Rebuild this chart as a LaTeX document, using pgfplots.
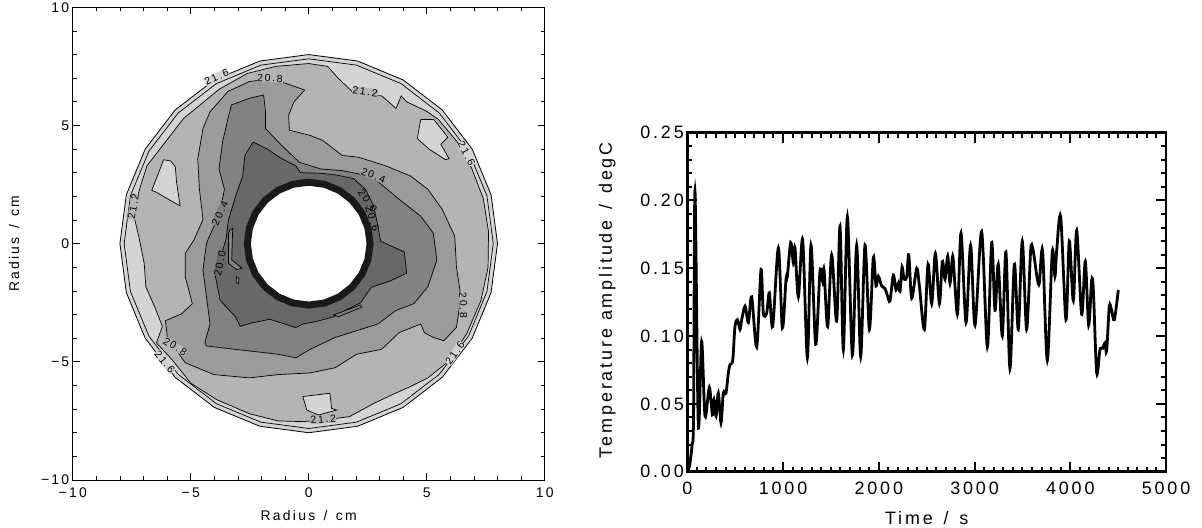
\documentclass[border=0pt]{standalone}
\usepackage{fontspec}
\setmainfont{Liberation Sans}[LetterSpace=16]
\usepackage{pgfplots}
\pgfplotsset{compat=1.18}

\definecolor{lvA}{RGB}{212,212,212}
\definecolor{lvB}{RGB}{180,180,180}
\definecolor{lvC}{RGB}{155,155,155}
\definecolor{lvD}{RGB}{130,130,130}
\definecolor{lvE}{RGB}{104,104,104}

\newcommand{\lbl}{\fontsize{10.5}{10.5}\selectfont}
\newcommand{\sep}{\hspace{0.6em}/\hspace{0.6em}}

\begin{document}
\begin{tikzpicture}
\useasboundingbox (0bp,0bp) rectangle (1202bp,528bp);

% ---------------- left: contour map ----------------
\begin{axis}[
  at={(72.7bp,48bp)}, anchor=south west,
  width=472bp, height=472.7bp, scale only axis,
  xmin=-10, xmax=10, ymin=-10, ymax=10,
  xtick={-10,-5,0,5,10}, ytick={-10,-5,0,5,10},
  xticklabels={−10,−5,0,5,10}, yticklabels={−10,−5,0,5,10},
  minor x tick num=4, minor y tick num=4,
  tick align=inside,
  major tick length=7bp, minor tick length=4bp,
  axis line style={line width=1bp},
  every tick/.style={black, line width=0.8bp},
  tick label style={font=\fontsize{14}{15}\selectfont},
  xticklabel style={yshift=-4bp},
  xlabel={Radius\sep cm}, ylabel={Radius\sep cm},
  label style={font=\fontsize{14}{15}\selectfont},
  xlabel style={at={(axis description cs:0.5,-0.076)}, anchor=center},
  ylabel style={at={(axis description cs:-0.124,0.5)}, anchor=center, rotate=0},
]
% outer rim of the tank
\addplot[draw=black, fill=lvA, line width=0.8bp] coordinates {
 (8,0) (7.727,2.071) (6.928,4) (5.657,5.657) (4,6.928) (2.071,7.727)
 (0,8) (-2.071,7.727) (-4,6.928) (-5.657,5.657) (-6.928,4) (-7.727,2.071)
 (-8,0) (-7.727,-2.071) (-6.928,-4) (-5.657,-5.657) (-4,-6.928) (-2.071,-7.727)
 (0,-8) (2.071,-7.727) (4,-6.928) (5.657,-5.657) (6.928,-4) (7.727,-2.071)} --cycle;
% 21.6 contour
\addplot[draw=black, line width=0.7bp] coordinates {
 (7.82,0) (7.553,2.024) (6.772,3.91) (5.53,5.53) (3.91,6.772) (2.024,7.553)
 (0,7.82) (-2.024,7.553) (-3.91,6.772) (-5.53,5.53) (-6.772,3.91) (-7.553,2.024)
 (-7.82,0) (-7.553,-2.024) (-6.772,-3.91) (-5.53,-5.53) (-3.91,-6.772) (-2.024,-7.553)
 (0,-7.82) (2.024,-7.553) (3.91,-6.772) (5.53,-5.53) (6.772,-3.91) (7.553,-2.024)} --cycle;
% 21.2 contour
\addplot[draw=black, fill=lvB, line width=0.7bp] coordinates {
 (0,7.62) (0.8,7.5) (1.25,7.0) (1.9,6.38) (2.4,6.3) (3.1,6.25) (3.7,5.72)
 (3.92,6.25) (4.15,6.0) (5.0,5.6) (5.5,5.25) (6.3,4.3) (6.9,3.2) (7.4,1.9)
 (7.62,0.5) (7.6,-1.0) (7.3,-2.4) (6.7,-3.8) (5.96,-4.95) (5.05,-5.68)
 (4.3,-6.05) (3.54,-6.39) (2.78,-6.75) (1.72,-7.32) (0.67,-7.46) (-0.24,-7.53)
 (-1.3,-7.5) (-2.5,-7.2) (-3.9,-6.6) (-5.0,-5.9) (-5.8,-4.9) (-6.45,-4.2)
 (-6.2,-3.5) (-6.52,-2.69) (-6.9,-1.83) (-6.97,-0.83) (-7.2,0.3) (-7.4,1.15)
 (-7.2,2.2) (-6.85,3.3) (-6.5,3.75) (-5.3,5.3) (-3.78,6.54) (-2.6,7.2) (-1.4,7.5)} --cycle;
% islands above 21.2
\addplot[draw=black, fill=lvA, line width=0.7bp] coordinates {
 (-6.65,2.25) (-6.3,3.15) (-6.15,3.55) (-5.85,3.5) (-5.65,3.25) (-5.6,2.6)
 (-5.45,1.6) (-5.9,1.85) (-6.5,2.2)} --cycle;
\addplot[draw=black, fill=lvA, line width=0.7bp] coordinates {
 (4.6,4.45) (4.7,5.0) (4.75,5.25) (5.3,5.25) (5.9,4.5) (5.6,4.2) (5.95,3.6)
 (5.8,3.55) (5.1,4.0)} --cycle;
\addplot[draw=black, fill=lvA, line width=0.7bp] coordinates {
 (-0.25,-6.47) (0.9,-6.33) (0.97,-6.97) (1.19,-7.04) (0.41,-7.25) (-0.08,-7.04)} --cycle;
% 20.8 contour
\addplot[draw=black, fill=lvC, line width=0.7bp] coordinates {
 (-2.51,6.86) (-1.75,6.96) (-1.0,6.79) (-0.17,6.5) (-0.62,6.0) (-0.85,5.44)
 (-0.82,4.8) (0.06,4.58) (0.59,4.37) (1.42,3.73) (2.1,3.66) (3.24,3.3)
 (4.3,2.87) (5.05,2.3) (5.66,1.45) (6.19,0.31) (6.26,-0.98) (6.41,-1.97)
 (6.41,-2.54) (6.26,-3.54) (5.73,-4.11) (5.28,-3.97) (4.9,-3.76) (4.75,-3.4)
 (3.84,-3.76) (3.09,-4.47) (2.03,-4.68) (1.12,-5.25) (0.06,-5.47) (-1.3,-5.54)
 (-2.51,-5.68) (-4.02,-5.54) (-5.23,-5.04) (-5.69,-4.4) (-5.99,-3.97)
 (-6.07,-3.26) (-5.39,-2.97) (-4.93,-2.54) (-5.23,-1.4) (-5.23,-0.41)
 (-4.86,0.16) (-4.48,1.02) (-4.63,2.3) (-4.7,3.59) (-4.48,4.87) (-4.18,5.58)
 (-3.42,6.44)} --cycle;
% 20.4 contour
\addplot[draw=black, fill=lvD, line width=0.7bp] coordinates {
 (-3.27,5.87) (-2.51,6.15) (-1.91,6.29) (-1.83,5.58) (-1.83,4.87) (-1.15,4.16)
 (-0.39,3.44) (0.51,3.16) (1.42,3.09) (2.18,2.94) (2.71,2.8) (3.24,2.37)
 (3.84,1.87) (4.75,1.16) (5.28,0.45) (5.43,-0.69) (5.05,-1.83) (4.45,-2.54)
 (3.69,-2.83) (2.93,-3.4) (1.12,-3.97) (0.06,-4.47) (-0.54,-4.83) (-1.3,-4.68)
 (-2.51,-4.54) (-4.33,-4.33) (-4.4,-4.18) (-4.18,-3.4) (-4.33,-2.26)
 (-4.48,-1.12) (-4.33,0.02) (-4.02,0.73) (-3.8,1.16) (-3.57,2.3) (-3.8,3.16)
 (-3.65,4.3) (-3.42,5.3)} --cycle;
% 20.0 contour
\addplot[draw=black, fill=lvE, line width=0.7bp] coordinates {
 (-2.7,3.75) (-2.35,4.3) (-1.75,4.0) (-1.15,3.6) (-0.55,3.3) (-0.35,3.0)
 (0.5,2.98) (1.2,2.9) (1.9,2.75) (2.4,2.3) (2.75,1.6) (2.9,0.9) (3.05,0.1)
 (3.6,-0.15) (4.05,-0.35) (4.15,-1.25) (3.4,-1.6) (2.65,-1.85) (2.2,-2.5)
 (1.5,-2.85) (1.05,-3.1) (0.3,-3.3) (-0.25,-3.4) (-0.55,-3.55) (-1.65,-3.2)
 (-2.4,-3.35) (-2.9,-3.5) (-3.1,-3.1) (-3.75,-2.4) (-3.95,-1.4) (-3.8,-0.8)
 (-3.5,0.2) (-3.4,1.0) (-3.1,2.0) (-2.8,2.85)} --cycle;
% small closed contours
\addplot[draw=black, fill=lvD, line width=0.7bp] coordinates {
 (-3.33,0.58) (-3.22,0.65) (-3.26,-0.69) (-2.82,-1.04) (-3.05,-1.1)
 (-3.4,-0.83) (-3.4,0.44)} --cycle;
\addplot[draw=black, fill=lvD, line width=0.7bp] coordinates {
 (1.05,-3.02) (2.18,-2.6) (2.25,-2.69) (1.26,-3.09)} --cycle;
\addplot[draw=black, fill=lvD, line width=0.6bp] coordinates {
 (-3.05,-1.4) (-2.95,-1.5) (-2.98,-1.7) (-3.08,-1.62)} --cycle;
% inner cylinder
\addplot[draw=black!90, fill=white, line width=7bp] coordinates {
 (2.6,0) (2.511,0.673) (2.252,1.3) (1.838,1.838) (1.3,2.252) (0.673,2.511)
 (0,2.6) (-0.673,2.511) (-1.3,2.252) (-1.838,1.838) (-2.252,1.3) (-2.511,0.673)
 (-2.6,0) (-2.511,-0.673) (-2.252,-1.3) (-1.838,-1.838) (-1.3,-2.252) (-0.673,-2.511)
 (0,-2.6) (0.673,-2.511) (1.3,-2.252) (1.838,-1.838) (2.252,-1.3) (2.511,-0.673)} --cycle;
% contour labels
\node[font=\lbl, rotate=25, fill=lvA, inner sep=0.3pt] at (axis cs:-3.9,7.05) {21.6};
\node[font=\lbl, rotate=-3, fill=lvB, inner sep=0.3pt] at (axis cs:-1.64,7.0) {20.8};
\node[font=\lbl, rotate=-8, fill=lvB, inner sep=0.3pt] at (axis cs:2.39,6.43) {21.2};
\node[font=\lbl, rotate=-62, fill=lvA, inner sep=0.3pt] at (axis cs:6.69,3.82) {21.6};
\node[font=\lbl, rotate=-22, fill=lvC, inner sep=0.3pt] at (axis cs:2.74,2.88) {20.4};
\node[font=\lbl, rotate=-55, inner sep=0.3pt] at (axis cs:2.5,1.8) {20.0};
\node[font=\lbl, rotate=-72, inner sep=0.3pt] at (axis cs:2.7,1.05) {20.6};
\node[font=\lbl, rotate=80, fill=lvB, inner sep=0.3pt] at (axis cs:-7.43,1.57) {21.2};
\node[font=\lbl, rotate=65, fill=lvD, inner sep=0.3pt] at (axis cs:-3.76,1.28) {20.4};
\node[font=\lbl, rotate=78, fill=lvE, inner sep=0.3pt] at (axis cs:-3.76,-0.83) {20.0};
\node[font=\lbl, rotate=-88, fill=lvB, inner sep=0.3pt] at (axis cs:6.55,-2.6) {20.8};
\node[font=\lbl, rotate=-32, fill=lvB, inner sep=0.3pt] at (axis cs:-5.66,-4.36) {20.8};
\node[font=\lbl, rotate=-50, fill=lvA, inner sep=0.3pt] at (axis cs:-6.1,-5.0) {21.6};
\node[font=\lbl, rotate=55, fill=lvA, inner sep=0.3pt] at (axis cs:6.2,-4.64) {21.6};
\node[font=\lbl, rotate=4, fill=lvB, inner sep=0.3pt] at (axis cs:0.62,-7.43) {21.2};
\end{axis}

% ---------------- right: amplitude time series ----------------
\begin{axis}[
  at={(687.3bp,56.3bp)}, anchor=south west,
  width=478.7bp, height=339bp, scale only axis,
  xmin=0, xmax=5000, ymin=0, ymax=0.25,
  xtick={0,1000,2000,3000,4000,5000},
  xticklabels={0,1000,2000,3000,4000,5000},
  ytick={0,0.05,0.1,0.15,0.2,0.25},
  yticklabels={0.00,0.05,0.10,0.15,0.20,0.25},
  minor x tick num=9, minor y tick num=4,
  tick align=inside,
  major tick length=10bp, minor tick length=5bp,
  axis line style={line width=2.6bp},
  every tick/.style={black, line width=2bp},
  tick label style={font=\fontsize{18}{19}\selectfont},
  xticklabel style={yshift=-7bp},
  xlabel={Time\sep s}, ylabel={Temperature amplitude\sep degC},
  label style={font=\fontsize{18}{19}\selectfont},
  xlabel style={at={(axis description cs:0.5,-0.138)}, anchor=center},
  ylabel style={at={(axis description cs:-0.167,0.506)}, anchor=center, rotate=0},
]
\addplot[black, line width=2.8bp, smooth, tension=0.5] coordinates {
 (0,0) (25,0.005) (50,0.02) (65,0.04) (80,0.207) (115,0.034) (150,0.096)
 (185,0.041) (230,0.062) (262,0.042) (279,0.053) (300,0.041) (324,0.058)
 (352,0.036) (376,0.058) (404,0.058) (429,0.073) (446,0.079) (474,0.082)
 (498,0.107) (523,0.112) (551,0.105) (568,0.112) (603,0.122) (638,0.110)
 (672,0.129) (725,0.092) (770,0.149) (794,0.117) (829,0.117) (857,0.132)
 (892,0.107) (951,0.165) (993,0.106) (1031,0.142) (1045,0.144) (1080,0.169)
 (1108,0.154) (1125,0.165) (1160,0.129) (1205,0.171) (1254,0.084) (1292,0.167)
 (1341,0.094) (1386,0.148) (1414,0.140) (1428,0.149) (1466,0.107) (1508,0.160)
 (1560,0.111) (1595,0.181) (1630,0.090) (1672,0.188) (1724,0.086) (1769,0.167)
 (1811,0.085) (1856,0.167) (1902,0.105) (1943,0.158) (1971,0.137) (1996,0.144)
 (2030,0.137) (2065,0.135) (2090,0.130) (2117,0.126) (2152,0.145) (2180,0.134)
 (2204,0.139) (2222,0.133) (2243,0.151) (2264,0.142) (2292,0.144) (2313,0.160)
 (2344,0.128) (2396,0.150) (2424,0.137) (2476,0.105) (2514,0.153) (2553,0.124)
 (2591,0.161) (2633,0.124) (2664,0.155) (2692,0.142) (2720,0.159) (2744,0.139)
 (2772,0.159) (2796,0.137) (2824,0.117) (2859,0.176) (2911,0.110) (2959,0.167)
 (3005,0.108) (3074,0.177) (3134,0.092) (3179,0.169) (3214,0.119) (3248,0.153)
 (3290,0.100) (3328,0.162) (3370,0.076) (3416,0.153) (3457,0.105) (3499,0.170)
 (3544,0.105) (3586,0.163) (3607,0.165) (3628,0.156) (3656,0.142) (3677,0.139)
 (3711,0.163) (3760,0.082) (3812,0.162) (3840,0.144) (3858,0.163) (3900,0.188)
 (3955,0.112) (3990,0.170) (4032,0.126) (4067,0.178) (4119,0.116) (4157,0.155)
 (4192,0.108) (4223,0.141) (4241,0.134) (4276,0.073) (4310,0.090) (4338,0.091)
 (4363,0.095) (4380,0.089) (4408,0.122) (4432,0.119) (4460,0.112) (4502,0.134)};
\end{axis}
\end{tikzpicture}
\end{document}
